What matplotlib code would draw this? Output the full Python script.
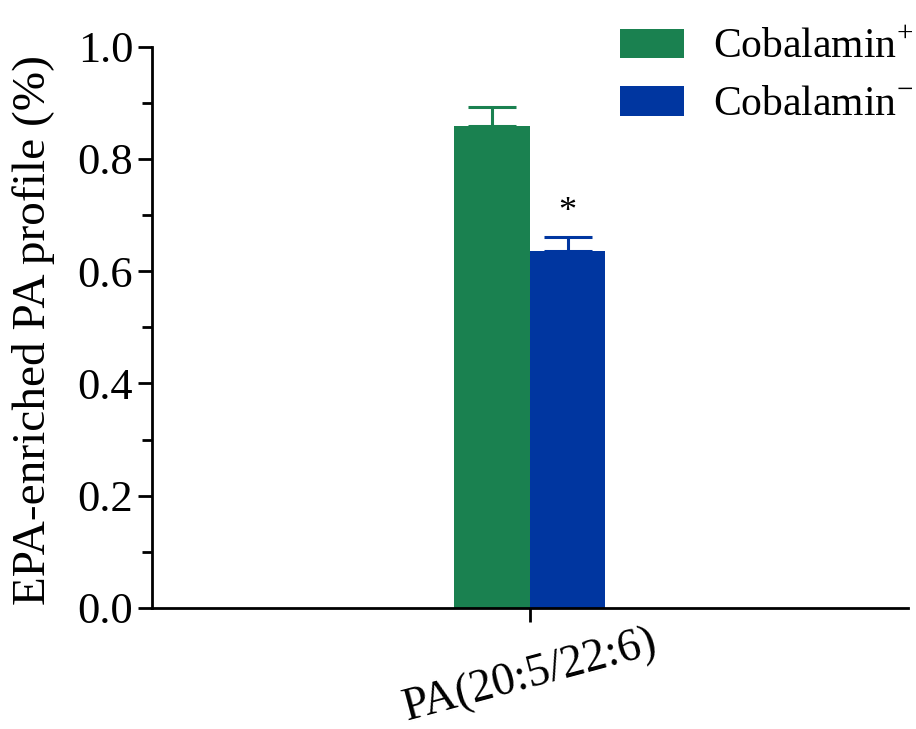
import matplotlib
matplotlib.use('Agg')
import matplotlib.pyplot as plt
from matplotlib.ticker import MultipleLocator

plt.rcParams['font.family'] = 'Liberation Serif'
plt.rcParams['mathtext.fontset'] = 'custom'
plt.rcParams['mathtext.rm'] = 'Liberation Serif'

# PA(20:5/22:6) share of the EPA-enriched PA profile
category = ['PA(20:5/22:6)']
groups = ['Cobalamin$^{+}$', 'Cobalamin$^{-}$']
means = [0.858, 0.636]
errors = [0.034, 0.025]
colors = ['#1a8150', '#0036a0']
star = '*'

fig = plt.figure(figsize=(9.16, 7.29), dpi=100)
ax = fig.add_axes([0.166, 0.166, 0.825, 0.770])

width = 0.2
offsets = [-width / 2, width / 2]
for off, m, e, c, g in zip(offsets, means, errors, colors, groups):
    ax.bar(off, m, width=width, color=c, label=g, zorder=2)
    # upper error bar only
    ax.errorbar(off, m, yerr=[[0], [e]], fmt='none', ecolor=c,
                elinewidth=2.2, capsize=17, capthick=2.2, zorder=3)

ax.text(offsets[1], means[1] + errors[1] + 0.015, star, ha='center',
        va='bottom', fontsize=26)

ax.set_xlim(-1, 1)
ax.set_ylim(0, 1.0)
ax.set_xticks([0])
ax.set_xticklabels(category, rotation=15, fontsize=33)
ax.yaxis.set_major_locator(MultipleLocator(0.2))
ax.yaxis.set_minor_locator(MultipleLocator(0.1))
ax.yaxis.set_major_formatter(plt.FormatStrFormatter('%.1f'))
ax.tick_params(axis='y', labelsize=32, width=2, length=10)
ax.tick_params(axis='y', which='minor', width=2, length=7)
ax.tick_params(axis='x', width=2, length=10, pad=0)
ax.set_ylabel('EPA-enriched PA profile (%)', fontsize=34)
ax.yaxis.set_label_coords(-0.128, 0.496)

for side in ['top', 'right']:
    ax.spines[side].set_visible(False)
for side in ['left', 'bottom']:
    ax.spines[side].set_linewidth(2)

ax.legend(loc='upper left', bbox_to_anchor=(0.619, 1.032), fontsize=30,
          frameon=False, borderpad=0, borderaxespad=0,
          handlelength=1.53, handleheight=0.72,
          labelspacing=0.45, handletextpad=0.7)

fig.savefig('out.png', dpi=100)
